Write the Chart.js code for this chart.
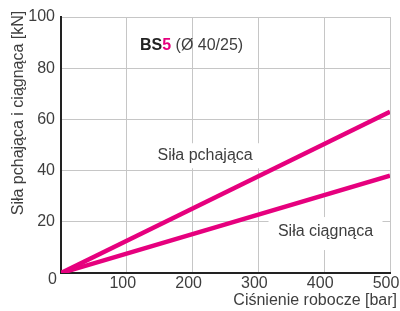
<!DOCTYPE html>
<html>
<head>
<meta charset="utf-8">
<script src="https://cdn.jsdelivr.net/npm/chart.js@4"></script>
<style>
  html, body { margin: 0; padding: 0; background: #fff; }
  #wrap { width: 400px; height: 311px; }
</style>
</head>
<body>
<div id="wrap"><canvas id="chart"></canvas></div>
<script>
// data
const pressures = [0, 500];          // bar
const pushForce = [0, 63];           // kN
const pullForce = [0, 38];           // kN
const xTicks = [0, 100, 200, 300, 400, 500];
const yTicks = [0, 20, 40, 60, 80, 100];

const FONT = '"Liberation Sans", Arial, sans-serif';
const TEXT = '#3e3e3e';
const PINK = '#e6007e';

const toPoints = (xs, ys) => xs.map((x, i) => ({ x: x, y: ys[i] }));

// labels inside the plot, placed in data units
const notes = [
    { text: 'Siła pchająca', x: 219, y: 46, box: [-56, -12, 113, 25] },
    { text: 'Siła ciągnąca', x: 402, y: 16, box: [-57, -15, 114, 33] }
];

const extras = {
    id: 'extras',
    beforeDatasetsDraw(chart) {
        const { ctx, scales } = chart;
        ctx.save();
        ctx.textBaseline = 'middle';
        ctx.textAlign = 'center';
        ctx.font = '16px ' + FONT;
        notes.forEach(n => {
            const px = scales.x.getPixelForValue(n.x);
            const py = scales.y.getPixelForValue(n.y);
            ctx.fillStyle = '#fff';
            ctx.fillRect(px + n.box[0], py + n.box[1], n.box[2], n.box[3]);
            ctx.fillStyle = TEXT;
            ctx.fillText(n.text, px, py);
        });

        // headline
        const hx = 140, hy = scales.y.getPixelForValue(89);
        ctx.textAlign = 'left';
        ctx.font = 'bold 16px ' + FONT;
        ctx.fillStyle = '#222';
        ctx.fillText('BS', hx, hy);
        let w = ctx.measureText('BS').width;
        ctx.fillStyle = PINK;
        ctx.fillText('5', hx + w, hy);
        w += ctx.measureText('5').width;
        ctx.font = '16px ' + FONT;
        ctx.fillStyle = TEXT;
        ctx.fillText(' (Ø 40/25)', hx + w, hy);

        // shared origin label
        ctx.textAlign = 'center';
        ctx.fillText('0', 52.5, 280);

        // axis titles
        ctx.textAlign = 'right';
        ctx.fillText('Ciśnienie robocze [bar]', 397, 301);
        ctx.translate(19, 113);
        ctx.rotate(-Math.PI / 2);
        ctx.textAlign = 'center';
        ctx.fillText('Siła pchająca i ciągnąca [kN]', 0, 0);
        ctx.restore();
    }
};

new Chart(document.getElementById('chart'), {
    type: 'line',
    data: {
        datasets: [
            { label: 'Siła pchająca', data: toPoints(pressures, pushForce) },
            { label: 'Siła ciągnąca', data: toPoints(pressures, pullForce) }
        ]
    },
    options: {
        responsive: true,
        maintainAspectRatio: false,
        animation: false,
        layout: { padding: { top: 17, right: 10, left: 0, bottom: 0 } },
        elements: {
            line: { borderColor: PINK, borderWidth: 4.5, tension: 0, fill: false },
            point: { radius: 0 }
        },
        plugins: { legend: { display: false }, tooltip: { enabled: false } },
        scales: {
            x: {
                type: 'linear',
                min: 0, max: 500,
                afterBuildTicks: s => { s.ticks = xTicks.map(v => ({ value: v })); },
                afterFit: s => { s.height = 38; s.paddingLeft = 0; s.paddingRight = 0; },
                grid: { color: '#c6c6c6', lineWidth: 1, drawTicks: false },
                border: { color: '#222', width: 2 },
                ticks: {
                    padding: 1,
                    labelOffset: -4,
                    color: TEXT,
                    font: { family: FONT, size: 16 },
                    callback: v => v === 0 ? '' : v
                }
            },
            y: {
                min: 0, max: 100,
                afterBuildTicks: s => { s.ticks = yTicks.map(v => ({ value: v })); },
                afterFit: s => { s.width = 61; s.paddingTop = 0; s.paddingBottom = 0; },
                grid: { color: '#c6c6c6', lineWidth: 1, drawTicks: false },
                border: { color: '#222', width: 2 },
                ticks: {
                    padding: 6,
                    color: TEXT,
                    font: { family: FONT, size: 16 },
                    callback: v => v === 0 ? '' : v
                }
            }
        }
    },
    plugins: [extras]
});
</script>
</body>
</html>
